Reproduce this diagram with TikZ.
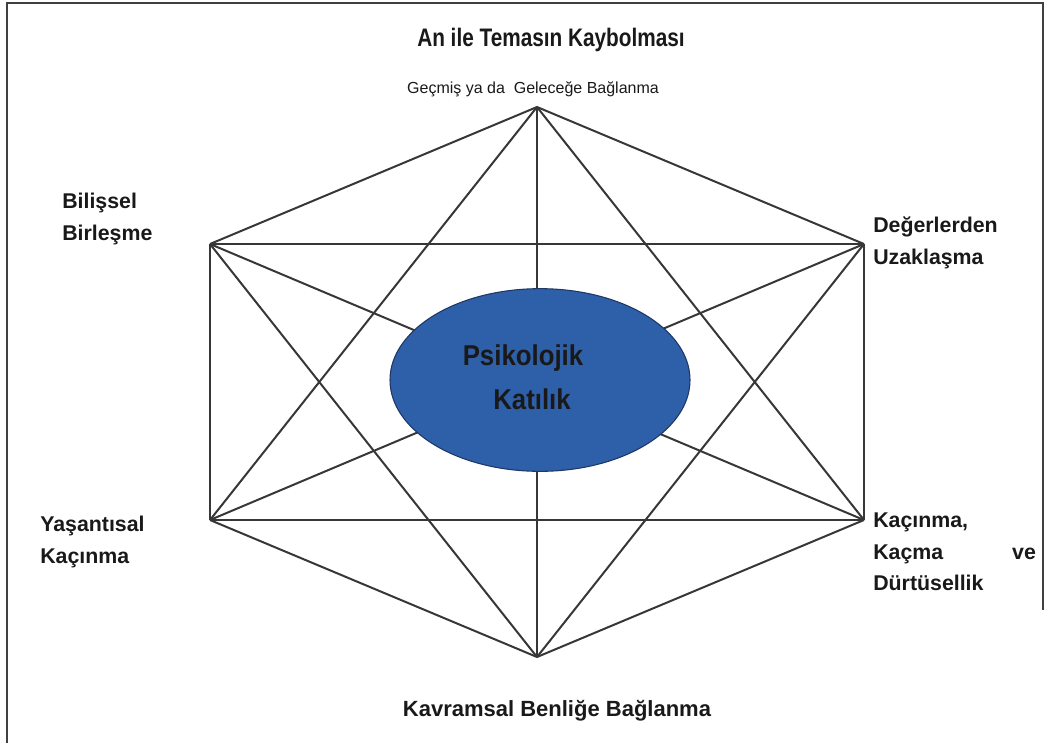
\documentclass[tikz,border=0pt]{standalone}
\usepackage{fontspec}
\setmainfont{Liberation Sans}
\newfontfamily\narrowbf{Liberation Sans}[FakeStretch=0.9]
\newfontfamily\condensedbf{Liberation Sans}[FakeStretch=0.82]
\usetikzlibrary{shapes.geometric}
\definecolor{edgegray}{RGB}{55,55,55}
\definecolor{coreblue}{RGB}{46,96,170}
\definecolor{coreedge}{RGB}{30,55,100}
\begin{document}
\begin{tikzpicture}[x=0.75pt,y=-0.75pt,
  link/.style={draw=edgegray,line width=1.5pt},
  frame/.style={draw=black!75,line width=1.2pt},
  lbl/.style={font=\fontsize{16pt}{23.5pt}\selectfont\bfseries,text=black!90,inner sep=0pt,align=left,anchor=north west},
  core/.style={ellipse,fill=coreblue,draw=coreedge,line width=0.8pt,minimum width=225pt,minimum height=137pt,inner sep=0pt}]
\useasboundingbox (0,0) rectangle (1046,743);
% frame
\coordinate (f1) at (7,743);
\coordinate (f2) at (7,3);
\coordinate (f3) at (1043,3);
\coordinate (f4) at (1043,610);
\draw[frame] (f1) -- (f2) -- (f3) -- (f4);
% vertices
\coordinate (T) at (537,107);
\coordinate (UL) at (210,244);
\coordinate (UR) at (864,244);
\coordinate (LL) at (210,520);
\coordinate (LR) at (864,520);
\coordinate (B) at (537,657);
% complete graph
\foreach \a/\b in {T/UL,T/UR,T/LL,T/LR,T/B,UL/UR,UL/LL,UL/LR,UL/B,UR/LL,UR/LR,UR/B,LL/LR,LL/B,LR/B}
  \draw[link] (\a) -- (\b);
% centre
\node[core] (core) at (540,380) {};
\node[font=\narrowbf\fontsize{21.5pt}{25pt}\selectfont\bfseries,text=black!90,inner sep=0pt] (psi) at (523,358) {Psikolojik};
\node[font=\narrowbf\fontsize{21.5pt}{25pt}\selectfont\bfseries,text=black!90,inner sep=0pt] (kat) at (532,399) {Katılık};
% labels
\node[font=\condensedbf\fontsize{19pt}{22pt}\selectfont\bfseries,text=black!90,inner sep=0pt] (title) at (551,40) {An ile Temasın Kaybolması};
\node[font=\fontsize{12pt}{14pt}\selectfont,text=black!90,inner sep=0pt] (sub) at (533,89) {Geçmiş ya da\ \ Geleceğe Bağlanma};
\node[lbl] (bb) at (62,193) {Bilişsel\\Birleşme};
\node[lbl] (du) at (873,217) {Değerlerden\\Uzaklaşma};
\node[lbl] (yk) at (40,516) {Yaşantısal\\Kaçınma};
\node[lbl] (kk) at (873,513) {Kaçınma,\\\makebox[122pt][s]{Kaçma\hfill ve}\\Dürtüsellik};
\node[font=\fontsize{16.5pt}{19pt}\selectfont\bfseries,text=black!90,inner sep=0pt] (kb) at (557,711) {Kavramsal Benliğe Bağlanma};
\end{tikzpicture}
\end{document}
